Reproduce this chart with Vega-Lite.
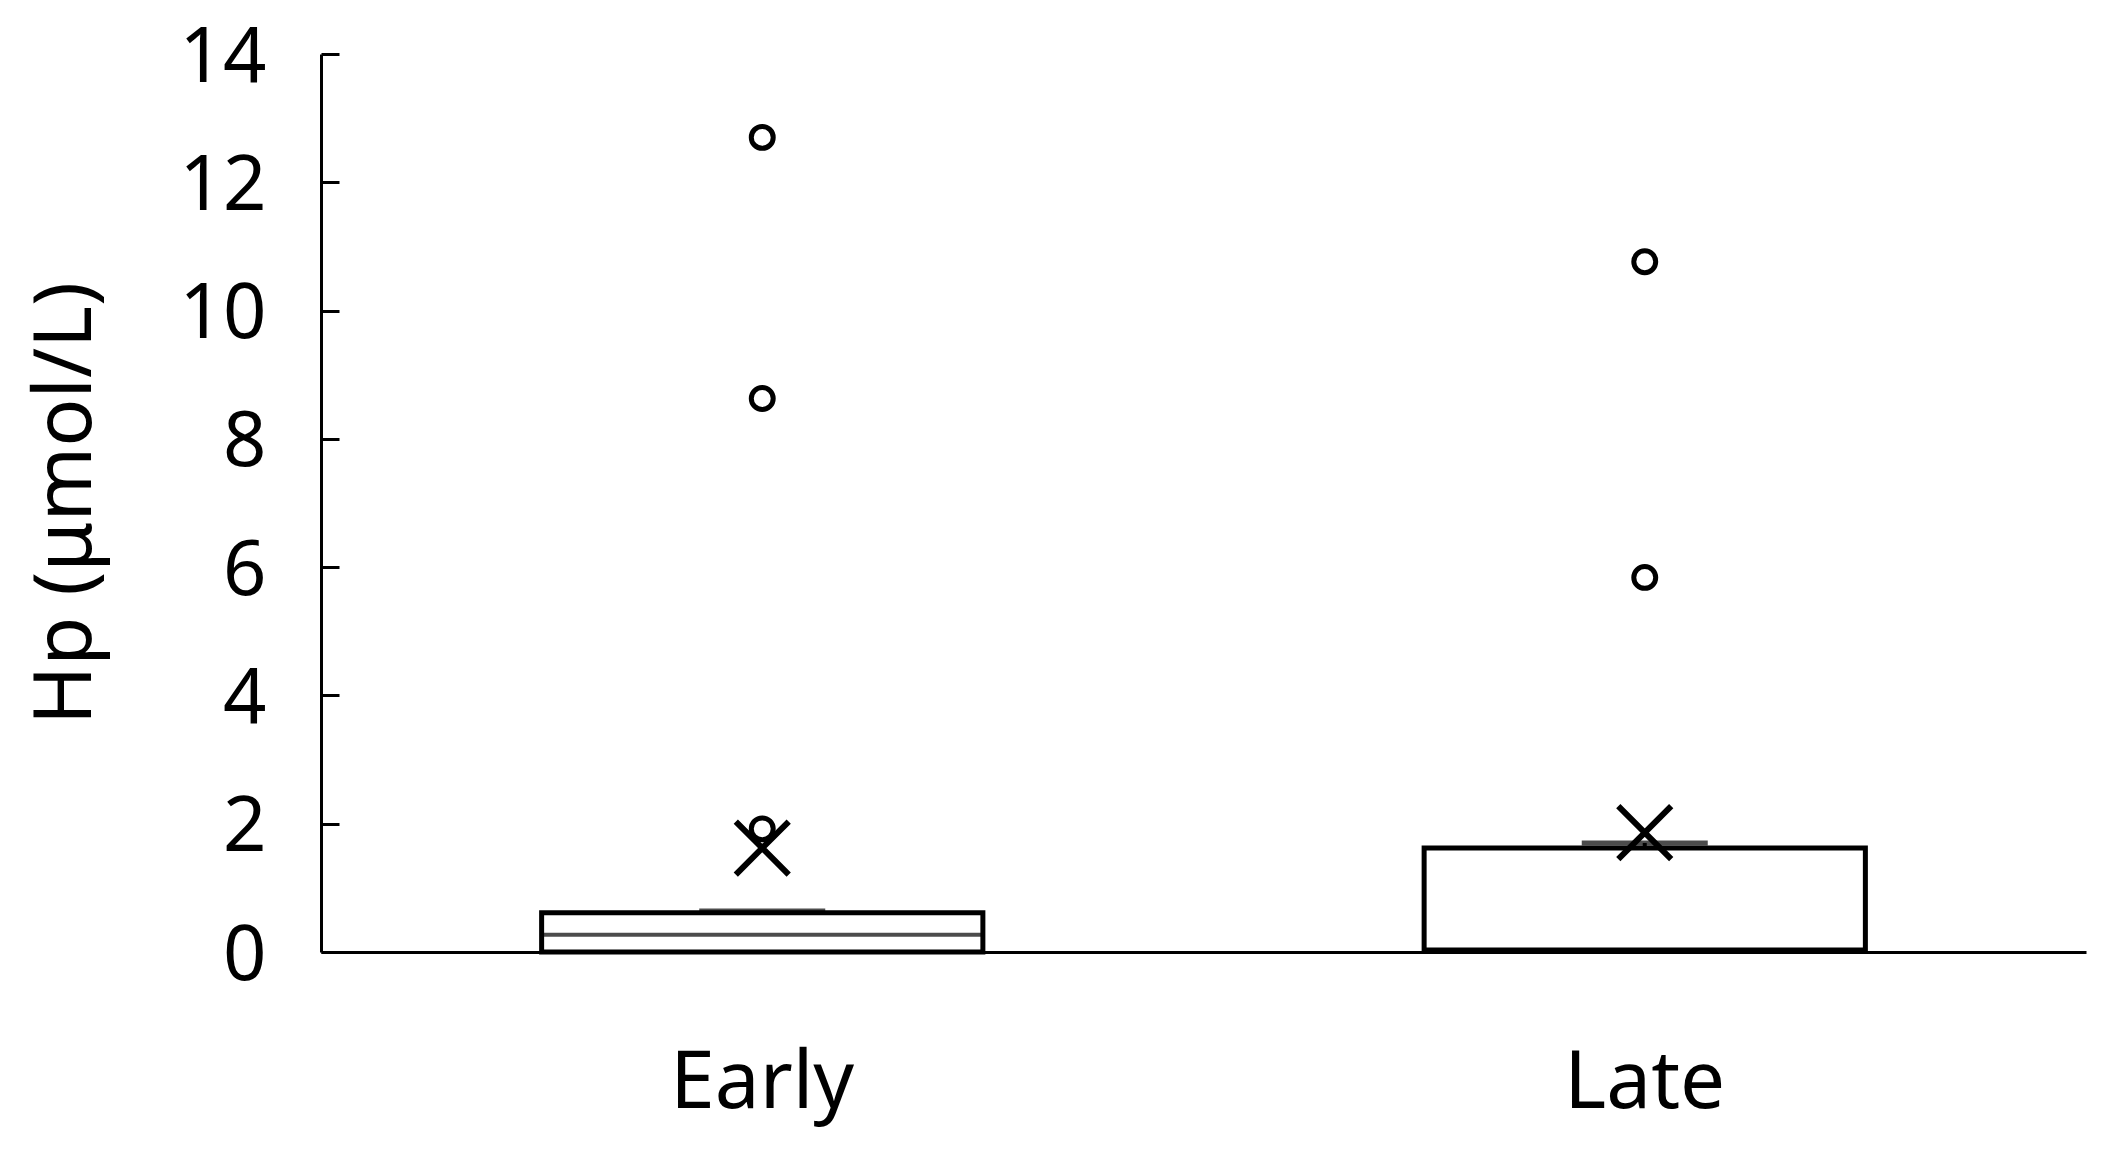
{
  "$schema": "https://vega.github.io/schema/vega-lite/v6.json",
  "width": 1765,
  "height": 898,
  "autosize": {"type": "none"},
  "padding": {"left": 321, "top": 54, "right": 31, "bottom": 200},
  "background": "white",
  "datasets": {
    "boxes": [
      {"group": "Early", "min": 0, "q1": 0.0, "median": 0.27, "q3": 0.61, "max": 0.64, "mean": 1.62},
      {"group": "Late", "min": 0, "q1": 0.03, "median": 0.03, "q3": 1.62, "max": 1.7, "mean": 1.86}
    ],
    "outliers": [
      {"group": "Early", "value": 12.7},
      {"group": "Early", "value": 8.63},
      {"group": "Early", "value": 1.92},
      {"group": "Late", "value": 10.76},
      {"group": "Late", "value": 5.84}
    ]
  },
  "config": {
    "view": {"stroke": null},
    "axis": {
      "grid": false,
      "domainColor": "black",
      "domainWidth": 3,
      "tickColor": "black",
      "tickWidth": 3,
      "labelColor": "black",
      "labelFont": "Noto Sans",
      "labelFontSize": 80,
      "labelLimit": 0,
      "titleFont": "Noto Sans",
      "titleColor": "black",
      "titleFontWeight": "normal"
    }
  },
  "encoding": {
    "x": {
      "field": "group",
      "type": "nominal",
      "sort": ["Early", "Late"],
      "scale": {"type": "band", "paddingInner": 0.5, "paddingOuter": 0.25},
      "axis": {"title": null, "ticks": false, "labelAngle": 0, "labelBaseline": "alphabetic", "labelPadding": 155}
    }
  },
  "layer": [
    {
      "data": {"name": "boxes"},
      "mark": {"type": "rule", "color": "black", "strokeWidth": 4},
      "encoding": {
        "y": {
          "field": "q3",
          "type": "quantitative",
          "scale": {"domain": [0, 14], "nice": false, "zero": true},
          "axis": {
            "values": [0, 2, 4, 6, 8, 10, 12, 14],
            "format": "d",
            "ticks": true,
            "tickSize": -18,
            "tickWidth": 3,
            "tickColor": "black",
            "labelFontSize": 76,
            "labelPadding": 73,
            "labelBaseline": "alphabetic",
            "labelOffset": 27,
            "labelFlush": false,
            "title": "Hp (μmol/L)",
            "titleFontSize": 80,
            "titleAngle": -90,
            "titleAlign": "center",
            "titleBaseline": "alphabetic",
            "titleX": -231,
            "titleY": 449
          }
        },
        "y2": {"field": "max"}
      }
    },
    {
      "data": {"name": "boxes"},
      "mark": {"type": "rule", "color": "black", "strokeWidth": 4},
      "encoding": {
        "y": {"field": "min", "type": "quantitative"},
        "y2": {"field": "q1"}
      }
    },
    {
      "data": {"name": "boxes"},
      "mark": {"type": "bar", "fill": "white", "stroke": "black", "strokeWidth": 5},
      "encoding": {
        "y": {"field": "q1", "type": "quantitative"},
        "y2": {"field": "q3"}
      }
    },
    {
      "data": {"name": "boxes"},
      "mark": {"type": "tick", "color": "black", "size": 441, "thickness": 4},
      "encoding": {
        "y": {"field": "median", "type": "quantitative"}
      }
    },
    {
      "data": {"name": "boxes"},
      "mark": {"type": "tick", "color": "black", "size": 126, "thickness": 5},
      "encoding": {
        "y": {"field": "max", "type": "quantitative"}
      }
    },
    {
      "data": {"name": "outliers"},
      "mark": {"type": "point", "shape": "circle", "filled": false, "stroke": "black", "strokeWidth": 5, "size": 480, "opacity": 1},
      "encoding": {
        "y": {"field": "value", "type": "quantitative"}
      }
    },
    {
      "data": {"name": "boxes"},
      "mark": {"type": "point", "shape": "M-1,-1L1,1M-1,1L1,-1", "filled": false, "stroke": "black", "strokeWidth": 6, "size": 2800, "opacity": 1},
      "encoding": {
        "y": {"field": "mean", "type": "quantitative"}
      }
    }
  ]
}
